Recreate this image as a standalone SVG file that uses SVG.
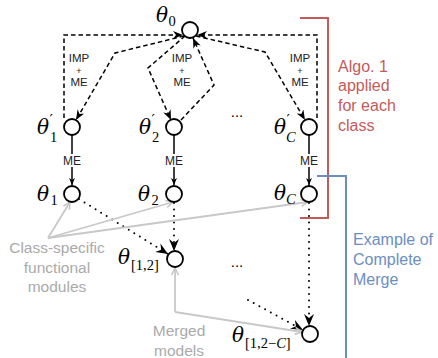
<svg xmlns="http://www.w3.org/2000/svg" width="438" height="358" viewBox="0 0 438 358">
<defs>
<style>
.nd{fill:#fff;stroke:#000;stroke-width:1.8}
.th{font-family:"DejaVu Serif","Liberation Serif",serif;font-style:italic;font-size:20px;fill:#000}
.sb{font-family:"Liberation Serif",serif;font-size:14.5px;font-style:normal;fill:#000}
.pr{font-family:"DejaVu Serif","Liberation Serif",serif;font-size:15px;font-style:normal;fill:#000}
.it{font-style:italic}
.dash{fill:none;stroke:#000;stroke-width:1.5;stroke-dasharray:4.5 3}
.solid{fill:none;stroke:#000;stroke-width:1.5}
.dot{fill:none;stroke:#000;stroke-width:2;stroke-dasharray:0 6.5;stroke-linecap:round}
.gray{fill:none;stroke:#c8c8c8;stroke-width:1.8}
.lbl{font-family:"Liberation Sans",Arial,sans-serif;font-size:12px;fill:#222;text-anchor:middle}
.imp{font-family:"Liberation Sans",Arial,sans-serif;font-size:11.5px;fill:#222;text-anchor:middle}
.plus{font-family:"Liberation Sans",Arial,sans-serif;font-size:9px;fill:#222;text-anchor:middle}
.gt{font-family:"Liberation Sans",Arial,sans-serif;font-size:15.5px;fill:#aaa;text-anchor:middle}
.rt{font-family:"Liberation Sans",Arial,sans-serif;font-size:16px;fill:#c55a5a}
.bt{font-family:"Liberation Sans",Arial,sans-serif;font-size:16px;fill:#6c8ebf}
.dots{font-family:"Liberation Sans",Arial,sans-serif;font-size:15px;fill:#000;text-anchor:middle}
</style>
<marker id="st" viewBox="0 0 10 8" refX="10" refY="4" markerWidth="10" markerHeight="8" markerUnits="userSpaceOnUse" orient="auto">
<path d="M0,0 L10,4 L0,8 L3,4 z" fill="#000"/>
</marker>
<marker id="sm" viewBox="0 0 7 6" refX="7" refY="3" markerWidth="7" markerHeight="6" markerUnits="userSpaceOnUse" orient="auto">
<path d="M0,0 L7,3 L0,6 L2,3 z" fill="#000"/>
</marker>
<marker id="bg" viewBox="0 0 12 10" refX="12" refY="5" markerWidth="12" markerHeight="10" markerUnits="userSpaceOnUse" orient="auto">
<path d="M0,0 L12,5 L0,10 L4,5 z" fill="#000"/>
</marker>
<marker id="ga" viewBox="0 0 9 9" refX="8" refY="4.5" markerWidth="9" markerHeight="9" markerUnits="userSpaceOnUse" orient="auto">
<path d="M1,1 L8,4.5 L1,8" fill="none" stroke="#c8c8c8" stroke-width="1.6"/>
</marker>
</defs>
<rect width="438" height="358" fill="#fff"/>

<g id="brackets">
<path d="M300,18 H328 V218 H300" fill="none" stroke="#c55a5a" stroke-width="2"/>
<path d="M317,176 H346 V358" fill="none" stroke="#6c8ebf" stroke-width="2"/>
<text class="rt" x="338" y="71.5">Algo. 1</text>
<text class="rt" x="338" y="91">applied</text>
<text class="rt" x="338" y="111">for each</text>
<text class="rt" x="338" y="130.5">class</text>
<text class="bt" x="353" y="245">Example of</text>
<text class="bt" x="353" y="265">Complete</text>
<text class="bt" x="353" y="285">Merge</text>
</g>

<g id="connectors">
<path class="dash" d="M64,118 V35 H183" marker-end="url(#st)"/>
<path class="dash" d="M317,118 V35 H197" marker-end="url(#st)"/>
<path class="dash" d="M184,36 L115,53 L76,120" marker-end="url(#st)"/>
<path class="dash" d="M185,36 L148,68 L171,120" marker-end="url(#st)"/>
<path class="dash" d="M181,120 L214,85 L193,38" marker-end="url(#st)"/>
<path class="dash" d="M196,36 L265,52 L305,120" marker-end="url(#st)"/>
<path class="solid" d="M72,135 V185" marker-end="url(#sm)"/>
<path class="solid" d="M174,135 V185" marker-end="url(#sm)"/>
<path class="solid" d="M309,135 V185" marker-end="url(#sm)"/>
<path class="dot" d="M79,199 L168,254" marker-end="url(#bg)"/>
<path class="dot" d="M174,203 V251" marker-end="url(#bg)"/>
<path class="dot" d="M309,203 V326" marker-end="url(#bg)"/>
<path class="dot" d="M248,300 L303,330" marker-end="url(#bg)"/>
<path class="gray" d="M48,238 L70,202" marker-end="url(#ga)"/>
<path class="gray" d="M48,238 L173,202" marker-end="url(#ga)"/>
<path class="gray" d="M48,238 L308,202" marker-end="url(#ga)"/>
<path class="gray" d="M175,312 V268" marker-end="url(#ga)"/>
<path class="gray" d="M175,312 L302,332" marker-end="url(#ga)"/>
<rect x="62" y="154" width="20" height="13" fill="#fff"/>
<rect x="164" y="154" width="20" height="13" fill="#fff"/>
<rect x="299" y="154" width="20" height="13" fill="#fff"/>
<text class="lbl" x="72" y="165">ME</text>
<text class="lbl" x="174" y="165">ME</text>
<text class="lbl" x="309" y="165">ME</text>
<text class="imp" x="79" y="61.5">IMP</text>
<text class="plus" x="79" y="73.5">+</text>
<text class="imp" x="79" y="86">ME</text>
<text class="imp" x="182" y="61.5">IMP</text>
<text class="plus" x="182" y="73.5">+</text>
<text class="imp" x="182" y="86">ME</text>
<text class="imp" x="300" y="61.5">IMP</text>
<text class="plus" x="300" y="73.5">+</text>
<text class="imp" x="300" y="86">ME</text>
</g>

<g id="n-theta0">
<circle class="nd" cx="190" cy="30" r="8"/>
<text class="th" x="156" y="22">θ</text><text class="sb" x="168.5" y="26">0</text>
</g>
<g id="n-theta1p">
<circle class="nd" cx="72" cy="127" r="8"/>
<text class="th" x="37" y="134">θ</text><text class="pr" x="49.5" y="125">′</text><text class="sb" x="50" y="142">1</text>
</g>
<g id="n-theta2p">
<circle class="nd" cx="174" cy="127" r="8"/>
<text class="th" x="139" y="134">θ</text><text class="pr" x="151.5" y="125">′</text><text class="sb" x="152" y="142">2</text>
</g>
<g id="n-thetaCp">
<circle class="nd" cx="309" cy="127" r="8"/>
<text class="th" x="274" y="134">θ</text><text class="pr" x="286.5" y="125">′</text><text class="sb it" x="286" y="142">C</text>
</g>
<g id="n-theta1">
<circle class="nd" cx="72" cy="194" r="8"/>
<text class="th" x="37" y="201">θ</text><text class="sb" x="50.5" y="205">1</text>
</g>
<g id="n-theta2">
<circle class="nd" cx="174" cy="194" r="8"/>
<text class="th" x="138" y="201">θ</text><text class="sb" x="151.5" y="205">2</text>
</g>
<g id="n-thetaC">
<circle class="nd" cx="309" cy="194" r="8"/>
<text class="th" x="274" y="200">θ</text><text class="sb it" x="286" y="204">C</text>
</g>
<g id="n-theta12">
<circle class="nd" cx="175" cy="259" r="8"/>
<text class="th" x="118" y="264">θ</text><text class="sb" x="131" y="270">[1,2]</text>
</g>
<g id="n-theta12C">
<circle class="nd" cx="310" cy="334" r="8"/>
<text class="th" x="232" y="342">θ</text><text class="sb" x="245" y="348">[1,2−<tspan class="it">C</tspan>]</text>
</g>

<g id="annotations">
<text class="dots" x="237" y="117">...</text>
<text class="dots" x="237" y="267">...</text>
<text class="gt" x="57" y="253">Class-specific</text>
<text class="gt" x="57" y="273">functional</text>
<text class="gt" x="57" y="292">modules</text>
<text class="gt" x="179" y="336">Merged</text>
<text class="gt" x="179" y="356">models</text>
</g>
</svg>
